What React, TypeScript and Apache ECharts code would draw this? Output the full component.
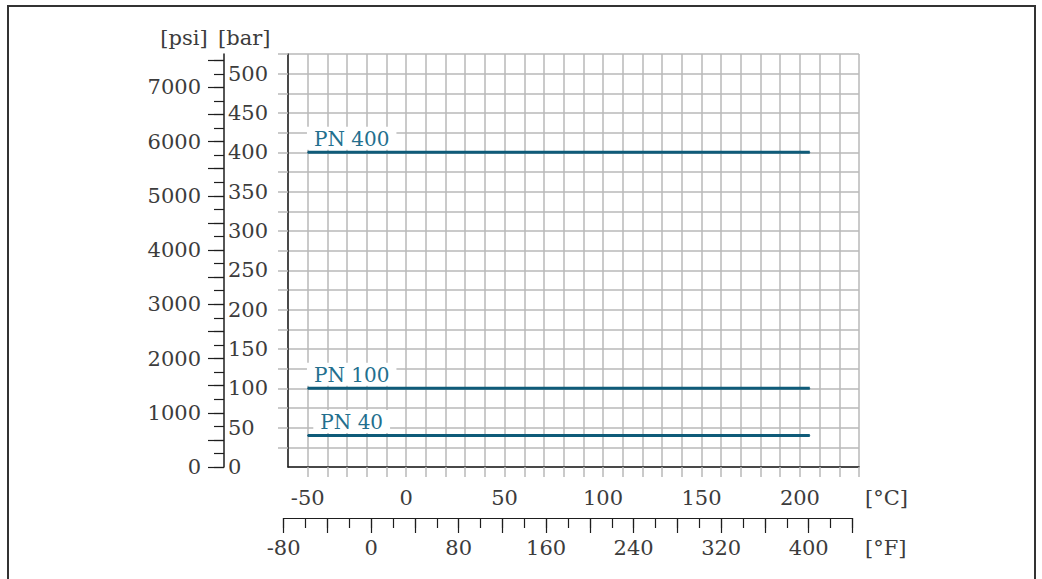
import React, { useEffect, useRef } from "react";
import * as echarts from "echarts";

// Temperature axis (°C): tick step and labelled step
const celsiusRange = [-60, 230];
const celsiusTickRange = [-50, 230];
const celsiusStep = 10;
const celsiusLabelStep = 50;
// Fahrenheit axis
const fahrenheitRange = [-80, 440];
const fahrenheitMajorStep = 40;
const fahrenheitMinorStep = 20;
const fahrenheitLabelStep = 80;
// Pressure axes
const barRange = [0, 525];
const barTickRange = [25, 525];
const barStep = 25;
const barLabelStep = 50;
const psiRange = [0, 7500];
const psiMajorStep = 500;
const psiMinorStep = 250;
const psiLabelStep = 1000;
const PSI_PER_BAR = 14.5038;
// Pressure ratings
const pnNames = ["PN 400", "PN 100", "PN 40"];
const pnPressureBar = [400, 100, 40];
const pnTempRange = [-50, 205];

const FONT = "DejaVu Serif";
const TEXT = "#3c3c3c";
const GRIDC = "#b9b9b9";
const AXISC = "#1e1e1e";
const LINEC = "#0f5b79";
const LABELC = "#236f8e";

// plot geometry (pixels)
const PLOT_L = 288, PLOT_T = 54, PLOT_W = 571, PLOT_H = 413;
const BAR_AXIS_X = 224;
const PX_PER_BAR = PLOT_H / (barRange[1] - barRange[0]);
const PX_PER_C = PLOT_W / (celsiusRange[1] - celsiusRange[0]);

export default function App() {
  const ref = useRef<HTMLDivElement>(null);
  useEffect(() => {
    document.body.style.margin = "0";
    const chart = echarts.init(ref.current!, null, { renderer: "svg" });
    const lbl = { fontFamily: FONT, fontSize: 21, color: TEXT };
    const bottomY = PLOT_T + PLOT_H;
    const barTickH = (barTickRange[1] - barTickRange[0]) * PX_PER_BAR;
    const cTickL = PLOT_L + (celsiusTickRange[0] - celsiusRange[0]) * PX_PER_C;
    const psiTop = bottomY - (psiRange[1] / PSI_PER_BAR) * PX_PER_BAR;
    const fL = PLOT_L + ((fahrenheitRange[0] - 32) * 5 / 9 - celsiusRange[0]) * PX_PER_C;
    const fR = PLOT_L + ((fahrenheitRange[1] - 32) * 5 / 9 - celsiusRange[0]) * PX_PER_C;
    const hidden = { show: false };
    const lineOff = (color: string, width: number) => ({ show: true, onZero: false, lineStyle: { color, width } });
    const noLine = { show: false, onZero: false };
    const dummyX = (g: number) => ({ gridIndex: g, type: "value", show: false, min: 0, max: 1, axisLine: noLine });
    const dummyY = (g: number) => ({ gridIndex: g, type: "value", show: false, min: 0, max: 1, axisLine: noLine });
    const unitText = (text: string, x: number, y: number, align: string) => ({
      type: "text", x, y,
      style: { text, fontFamily: FONT, fontSize: 21, fill: TEXT, align, verticalAlign: "middle" },
    });
    const option: any = {
      animation: false,
      textStyle: { fontFamily: FONT },
      grid: [
        { left: PLOT_L, top: PLOT_T, width: PLOT_W, height: PLOT_H },
        { left: cTickL, top: PLOT_T, width: PLOT_L + PLOT_W - cTickL, height: PLOT_H },
        { left: PLOT_L, top: PLOT_T, width: PLOT_W, height: barTickH },
        { left: BAR_AXIS_X, top: psiTop, width: 10, height: bottomY - psiTop },
        { left: BAR_AXIS_X, top: PLOT_T, width: 10, height: PLOT_H },
        { left: fL, top: 508, width: fR - fL, height: 10 },
      ],
      xAxis: [
        {
          gridIndex: 0, type: "value", min: celsiusRange[0], max: celsiusRange[1], interval: celsiusStep, position: "bottom",
          axisLine: lineOff(AXISC, 1.5),
          axisTick: hidden,
          axisLabel: { ...lbl, margin: 20, formatter: (v: number) => (v % celsiusLabelStep === 0 ? String(v) : "") },
          splitLine: { show: true, lineStyle: { color: GRIDC, width: 1.5 } },
        },
        {
          gridIndex: 1, type: "value", min: celsiusTickRange[0], max: celsiusTickRange[1], interval: celsiusStep, position: "bottom",
          axisLine: noLine,
          axisTick: { show: true, length: 10, lineStyle: { color: GRIDC, width: 1.5 } },
          axisLabel: hidden,
          splitLine: hidden,
        },
        dummyX(2),
        dummyX(3),
        dummyX(4),
        {
          gridIndex: 5, type: "value", min: fahrenheitRange[0], max: fahrenheitRange[1], interval: fahrenheitMajorStep, position: "bottom",
          axisLine: lineOff(AXISC, 1.2),
          axisTick: { show: true, length: 15, lineStyle: { color: AXISC, width: 1.2 } },
          axisLabel: { ...lbl, margin: 19, formatter: (v: number) => (v % fahrenheitLabelStep === 0 ? String(v) : "") },
          splitLine: hidden,
        },
        {
          gridIndex: 5, type: "value", min: fahrenheitRange[0], max: fahrenheitRange[1], interval: fahrenheitMinorStep, position: "bottom",
          axisLine: noLine,
          axisTick: { show: true, length: 10, lineStyle: { color: AXISC, width: 1.2 } },
          axisLabel: hidden,
          splitLine: hidden,
        },
      ],
      yAxis: [
        {
          gridIndex: 0, type: "value", min: barRange[0], max: barRange[1], interval: barStep, position: "left",
          axisLine: lineOff(AXISC, 1.5),
          axisTick: hidden,
          axisLabel: hidden,
          splitLine: { show: true, lineStyle: { color: GRIDC, width: 1.5 } },
        },
        dummyY(1),
        {
          gridIndex: 2, type: "value", min: barTickRange[0], max: barTickRange[1], interval: barStep, position: "left",
          axisLine: noLine,
          axisTick: { show: true, length: 10, lineStyle: { color: GRIDC, width: 1.5 } },
          axisLabel: hidden,
          splitLine: hidden,
        },
        {
          gridIndex: 3, type: "value", min: psiRange[0], max: psiRange[1], interval: psiMajorStep, position: "left",
          axisLine: noLine,
          axisTick: { show: true, length: 16, lineStyle: { color: AXISC, width: 1.2 } },
          axisLabel: { ...lbl, margin: 23, formatter: (v: number) => (v % psiLabelStep === 0 ? String(v) : "") },
          splitLine: hidden,
        },
        {
          gridIndex: 3, type: "value", min: psiRange[0], max: psiRange[1], interval: psiMinorStep, position: "left",
          axisLine: noLine,
          axisTick: { show: true, length: 10, lineStyle: { color: AXISC, width: 1.2 } },
          axisLabel: hidden,
          splitLine: hidden,
        },
        {
          gridIndex: 4, type: "value", min: barRange[0], max: barRange[1], interval: barStep, position: "left",
          axisLine: lineOff(AXISC, 1.5),
          axisTick: hidden,
          axisLabel: { ...lbl, inside: true, margin: 4, formatter: (v: number) => (v % barLabelStep === 0 && v <= 500 ? String(v) : "") },
          splitLine: hidden,
        },
        dummyY(5),
      ],
      series: pnPressureBar.map((p, i) => ({
        type: "line",
        xAxisIndex: 0,
        yAxisIndex: 0,
        symbol: "circle",
        symbolSize: 1,
        showSymbol: true,
        lineStyle: { color: LINEC, width: 3 },
        itemStyle: { color: LINEC },
        z: 5,
        data: [
          {
            value: [pnTempRange[0], p],
            label: {
              show: true,
              formatter: pnNames[i],
              position: "top",
              distance: 2,
              align: "center",
              offset: [44, 0],
              fontFamily: FONT,
              fontSize: 20,
              color: LABELC,
              backgroundColor: "#ffffff",
              padding: [2, 7, 1, 7],
            },
          },
          { value: [pnTempRange[1], p] },
        ],
      })),
      graphic: [
        { type: "rect", shape: { x: 8, y: 6, width: 1027, height: 600 }, style: { fill: "none", stroke: "#333333", lineWidth: 2 }, silent: true },
        unitText("[psi]", 184, 38, "center"),
        unitText("[bar]", 218, 38, "left"),
        unitText("[°C]", 865, 498, "left"),
        unitText("[°F]", 865, 548, "left"),
      ],
    };
    chart.setOption(option);
    return () => chart.dispose();
  }, []);
  return <div ref={ref} style={{ width: 1042, height: 579 }} />;
}
